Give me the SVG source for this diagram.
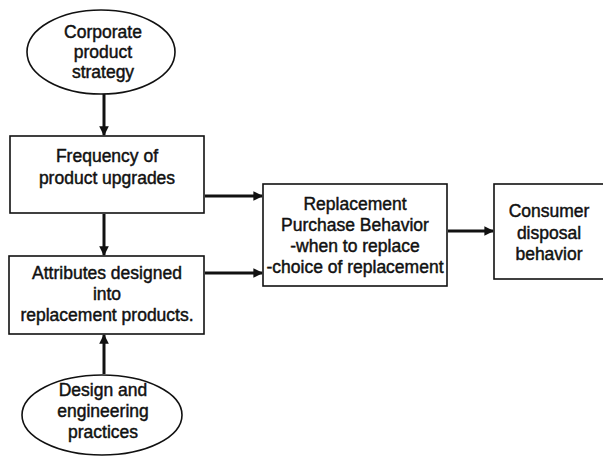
<svg xmlns="http://www.w3.org/2000/svg" width="603" height="465" viewBox="0 0 603 465">
<style>
.n{fill:#fff;stroke:#111;stroke-width:1.6}
.t{font-family:"Liberation Sans",Arial,sans-serif;font-size:17.5px;fill:#111;stroke:#111;stroke-width:0.45;text-anchor:middle}
.c{stroke:#111;stroke-width:3;fill:none;marker-end:url(#ah)}
</style>
<defs>
<marker id="ah" viewBox="0 0 10 10" refX="9" refY="5" markerWidth="3.2" markerHeight="3.2" orient="auto" markerUnits="strokeWidth">
<path d="M0,0 L10,5 L0,10 z" fill="#111"/>
</marker>
</defs>
<rect width="603" height="465" fill="#fff"/>
<g id="connectors">
<line class="c" x1="104" y1="94" x2="104" y2="135"/>
<line class="c" x1="104" y1="214" x2="104" y2="255"/>
<line class="c" x1="104" y1="374" x2="104" y2="335"/>
<line class="c" x1="205" y1="196" x2="262" y2="196"/>
<line class="c" x1="205" y1="273" x2="262" y2="273"/>
<line class="c" x1="448" y1="231" x2="493" y2="231"/>
</g>
<g id="corporate">
<ellipse class="n" cx="101" cy="52" rx="74" ry="42"/>
<text class="t" x="103" y="38">Corporate</text>
<text class="t" x="103" y="58">product</text>
<text class="t" x="103" y="78">strategy</text>
</g>
<g id="frequency">
<rect class="n" x="10" y="136" width="194" height="77"/>
<text class="t" x="107" y="162">Frequency of</text>
<text class="t" x="107" y="184">product upgrades</text>
</g>
<g id="attributes">
<rect class="n" x="9" y="256" width="195" height="78"/>
<text class="t" x="107" y="279">Attributes designed</text>
<text class="t" x="107" y="300">into</text>
<text class="t" x="107" y="321">replacement products.</text>
</g>
<g id="design">
<ellipse class="n" cx="102" cy="415" rx="80" ry="40"/>
<text class="t" x="103" y="396">Design and</text>
<text class="t" x="103" y="417">engineering</text>
<text class="t" x="103" y="438">practices</text>
</g>
<g id="replacement">
<rect class="n" x="263" y="184" width="184" height="102"/>
<text class="t" x="355" y="210">Replacement</text>
<text class="t" x="355" y="231">Purchase Behavior</text>
<text class="t" x="355" y="252">-when to replace</text>
<text class="t" x="355" y="273">-choice of replacement</text>
</g>
<g id="consumer">
<rect class="n" x="494" y="184" width="112" height="95"/>
<text class="t" x="549" y="217">Consumer</text>
<text class="t" x="549" y="239">disposal</text>
<text class="t" x="549" y="260">behavior</text>
</g>
</svg>
